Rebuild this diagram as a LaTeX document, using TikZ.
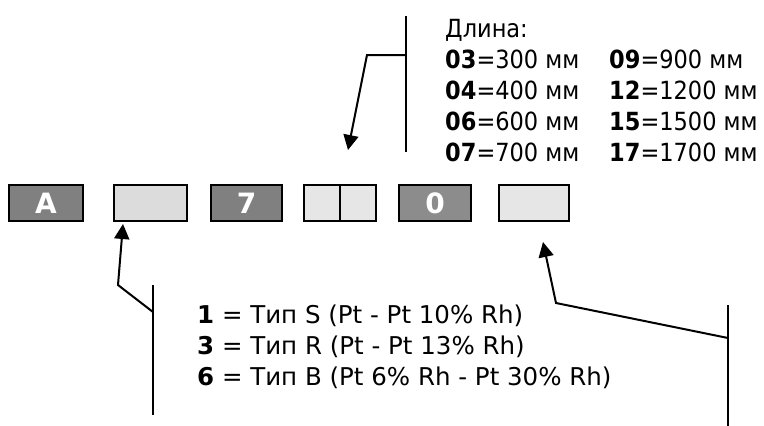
\documentclass[tikz,border=0pt]{standalone}
\usepackage{fontspec}
\setmainfont{DejaVu Sans}
\newfontfamily\condfont{DejaVu Sans Condensed}
\usetikzlibrary{arrows.meta}
\definecolor{darkfill}{HTML}{808080}
\definecolor{midfill}{HTML}{8C8C8C}
\definecolor{lightA}{HTML}{DCDCDC}
\definecolor{lightB}{HTML}{E6E6E6}
\begin{document}
\begin{tikzpicture}[x=1pt,y=-1pt,
  codebox/.style={draw=black,line width=2pt,minimum height=36pt,inner sep=0pt,
    font=\fontsize{28}{28}\selectfont\bfseries,text=white},
  lbl/.style={anchor=base west,inner sep=0pt,font=\condfont\fontsize{25}{30}\selectfont},
  tlbl/.style={anchor=base west,inner sep=0pt,font=\fontsize{24.5}{30}\selectfont},
  conn/.style={line width=2pt},
  arr/.style={line width=2pt,-{Triangle[length=15pt,width=15pt]}}
]
\useasboundingbox (0,0) rectangle (764,426);
% code boxes
\node[codebox,fill=darkfill,minimum width=74pt] (bA) at (46,203) {A};
\node[codebox,fill=lightA,minimum width=73pt] (b2) at (150.5,203) {};
\node[codebox,fill=darkfill,minimum width=71pt] (b7) at (246.5,203) {7};
\node[codebox,fill=lightB,minimum width=72pt] (b4) at (340,203) {};
\draw[line width=2pt] (b4.north) -- (b4.south);
\node[codebox,fill=midfill,minimum width=72pt] (b0) at (435,203) {0};
\node[codebox,fill=lightB,minimum width=70pt] (b6) at (534,203) {};
% length legend
\node[lbl] (len) at (445,37) {Длина:};
\node[lbl] (l03) at (445,68) {\textbf{03}=300 мм};
\node[lbl] (l04) at (445,99) {\textbf{04}=400 мм};
\node[lbl] (l06) at (445,130) {\textbf{06}=600 мм};
\node[lbl] (l07) at (445,161) {\textbf{07}=700 мм};
\node[lbl] (l09) at (609,68) {\textbf{09}=900 мм};
\node[lbl] (l12) at (609,99) {\textbf{12}=1200 мм};
\node[lbl] (l15) at (609,130) {\textbf{15}=1500 мм};
\node[lbl] (l17) at (609,161) {\textbf{17}=1700 мм};
% type legend
\node[tlbl] (t1) at (197,323) {\textbf{1} = Тип S (Pt - Pt 10\% Rh)};
\node[tlbl] (t3) at (197,354) {\textbf{3} = Тип R (Pt - Pt 13\% Rh)};
\node[tlbl] (t6) at (197,385) {\textbf{6} = Тип B (Pt 6\% Rh - Pt 30\% Rh)};
% top bracket
\coordinate (topA) at (406,16);
\coordinate (topB) at (406,152);
\coordinate (topJ) at (406,55);
\coordinate (topK) at (367,55);
\coordinate (topT) at (348,150);
\draw[conn] (topA) -- (topB);
\draw[arr] (topJ) -- (topK) -- (topT);
% left bracket
\coordinate (lA) at (153,285);
\coordinate (lB) at (153,415);
\coordinate (lJ) at (153,312);
\coordinate (lK) at (118,285);
\coordinate (lT) at (123,224);
\draw[conn] (lA) -- (lB);
\draw[arr] (lJ) -- (lK) -- (lT);
% right bracket
\coordinate (rA) at (728,305);
\coordinate (rB) at (728,426);
\coordinate (rJ) at (728,338);
\coordinate (rK) at (556,303);
\coordinate (rT) at (543,242);
\draw[conn] (rA) -- (rB);
\draw[arr] (rJ) -- (rK) -- (rT);
\end{tikzpicture}
\end{document}
